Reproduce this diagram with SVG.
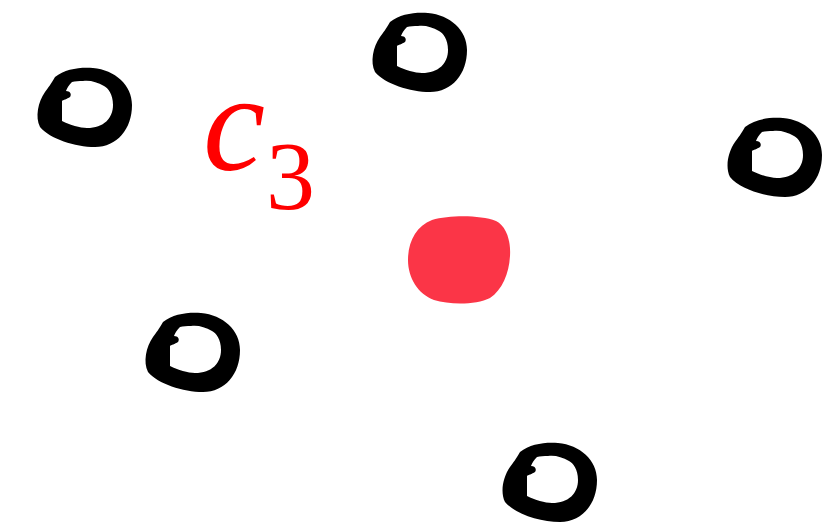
<svg xmlns="http://www.w3.org/2000/svg" width="831" height="524" viewBox="0 0 831 524">
<style>
.ring{fill:#000;fill-rule:evenodd}
.lbl{font-family:"Liberation Serif","DejaVu Serif",serif;fill:#ff0000}
</style>
<defs>
<path id="ringShape" class="ring" d="M -30,-30 C -20,-38 -5,-40 8,-39 C 30,-37 47,-22 47,-2 C 47,22 32,40 10,40 C -10,40 -35,32 -45,20 C -50,10 -47,-5 -40,-15 C -37,-19 -34,-23 -30,-30 Z M -13,-25 C -16,-22 -18,-19 -19,-16 C -15,-16 -13,-13 -15,-10 C -18,-8 -22,-7 -23,-6 L -23,14 C -15,18 -5,21 2,21 C 19,21 28,11 28,-2 C 28,-13 23,-19 19,-21 C 12,-25 5,-27 -2,-26 C -6,-26 -10,-26 -13,-25 Z"/>
</defs>
<rect width="831" height="524" fill="#fff"/>
<g id="connectors"/>
<g id="n1" transform="translate(85,107)"><use href="#ringShape"/></g>
<g id="n2" transform="translate(420,52)"><use href="#ringShape"/></g>
<g id="n3" transform="translate(775,157)"><use href="#ringShape"/></g>
<g id="n4" transform="translate(193,352)"><use href="#ringShape"/></g>
<g id="n5" transform="translate(550,482)"><use href="#ringShape"/></g>
<g id="center"><path d="M 432,220 C 450,215 480,215 496,221 C 506,226 511,240 510,256 C 509,274 502,290 490,298 C 476,305 450,305 434,300 C 418,294 408,278 408,260 C 408,242 416,226 432,220 Z" fill="#fb3547"/></g>
<g id="label"><text class="lbl" x="203" y="170" font-size="140" font-style="italic">c</text><text class="lbl" x="266" y="209" font-size="98">3</text></g>
</svg>
